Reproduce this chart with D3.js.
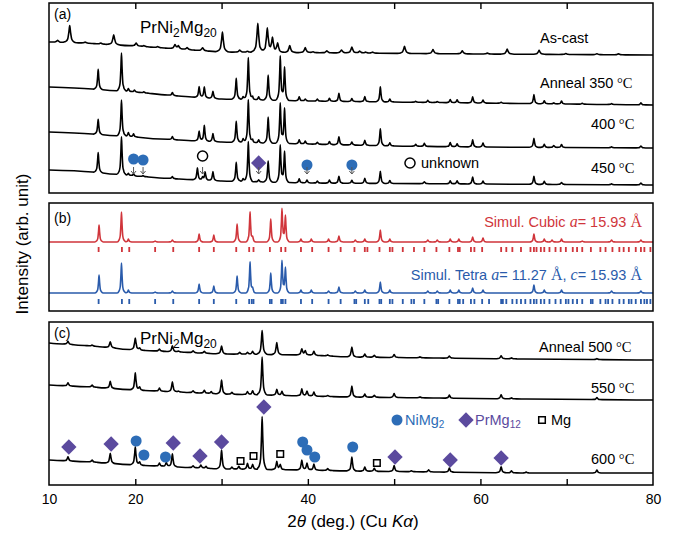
<!DOCTYPE html>
<html>
<head>
<meta charset="utf-8">
<script src="https://cdn.jsdelivr.net/npm/d3@7"></script>
<style>
body { margin: 0; background: #fff; }
text { font-family: "Liberation Sans", Arial, sans-serif; }
</style>
</head>
<body>
<div id="chart"></div>
<script>
// ---- data: [2theta, intensity] baselines, [2theta, peak height] ----
const asCastBase = [[10,151],[14,150],[20,147],[25,144],[30,141],[45,140],[60,139],[80,138]];
const asCastPeaks = [[11.0,2],[12.4,17],[14.2,1],[16.0,1],[17.5,10],[20.1,3],[21.0,1],[22.6,1],[24.6,4],[25.0,3],[26.0,2],[27.8,3],[30.1,20],[32.1,2],[33.0,1],[34.2,29],[35.3,24],[35.9,14],[36.5,9],[37.9,7],[39.7,5],[40.6,1],[42.2,2],[43.9,3],[45.1,6],[46.0,2],[46.7,1],[47.5,1],[51.2,7],[54.5,4],[57.9,3],[60.8,1],[63.1,5],[66.8,4],[69.9,1],[73.5,1],[76.0,1]];

const a350Base = [[10,106],[15,104],[20,101],[25,97],[30,94],[40,92],[50,91],[60,90],[70,89],[80,88]];
const a350Peaks = [[15.7,20],[18.4,38],[19.2,3],[19.9,2],[21.0,1],[24.3,3],[27.4,11],[28.0,11],[29.0,7],[31.7,21],[32.5,3],[33.1,42],[33.6,3],[34.3,3],[35.4,25],[36.8,44],[37.3,33],[39.0,4],[39.7,2],[41.1,2],[42.5,3],[43.6,8],[45.1,3],[46.6,5],[48.4,15],[49.5,3],[52.5,1],[53.9,2],[55.0,1],[56.5,3],[57.3,3],[59.1,6],[60.3,3],[62.4,1],[66.2,9],[67.4,3],[68.5,1],[69.4,3],[71.8,1],[75.2,1],[78.6,2]];

const a400Base = [[10,61],[15,59],[20,56],[25,53],[30,51],[40,49],[50,47],[60,46],[80,45]];
const a400Peaks = [[15.7,15],[18.4,36],[19.2,4],[19.8,3],[24.3,3],[27.4,10],[28.0,16],[29.0,8],[31.7,21],[32.5,4],[33.1,43],[33.6,3],[34.3,3],[35.4,26],[36.8,40],[37.3,35],[39.0,4],[39.7,3],[41.1,2],[42.5,3],[43.6,8],[45.1,3],[46.6,5],[48.4,17],[49.5,3],[52.5,2],[53.5,3],[56.5,4],[57.3,3],[59.1,7],[60.3,4],[66.2,9],[67.4,3],[68.5,2],[69.4,3],[75.2,1],[78.6,2]];

const a450Base = [[10,23],[15,21],[20,17],[25,14],[30,12],[40,10],[60,9],[80,8]];
const a450Peaks = [[15.7,20],[18.4,38],[19.2,2],[19.8,2],[20.9,1],[24.3,2],[27.2,12],[27.8,3],[28.1,8],[29.0,9],[31.7,19],[32.5,3],[33.1,40],[34.3,2],[35.4,21],[36.8,37],[37.3,31],[39.0,4],[39.9,3],[41.1,2],[42.5,3],[43.6,7],[45.1,3],[46.6,5],[48.4,12],[49.5,3],[53.5,2],[56.5,3],[57.3,3],[59.1,7],[60.3,3],[66.2,8],[67.4,3],[69.4,2],[75.2,1],[78.6,2]];

const cubicBase = [[10,69],[80,69]];
const cubicPeaks = [[15.8,17],[18.4,30],[19.2,3],[22.3,1],[24.3,2],[27.4,8],[29.1,7],[31.8,18],[33.3,30],[33.6,4],[35.7,23],[37.0,33],[37.4,26],[39.2,3],[40.4,3],[42.4,3],[43.6,6],[45.5,2],[46.6,3],[48.4,12],[49.5,3],[53.9,2],[55.0,2],[56.5,3],[57.5,3],[59.1,5],[60.3,4],[66.2,8],[67.4,3],[68.3,2],[69.4,3],[71.8,1],[75.2,2],[78.6,2]];
const tetraBase = [[10,18],[80,18]];
const tetraPeaks = [[15.8,18],[18.4,30],[19.2,3],[22.3,1],[24.3,2],[27.4,9],[29.1,7],[31.8,17],[33.3,31],[33.6,4],[35.7,20],[37.0,32],[37.4,25],[39.2,3],[40.4,3],[42.4,2],[43.6,6],[45.5,2],[46.6,3],[48.4,11],[49.5,3],[53.9,2],[55.0,2],[56.5,3],[57.5,3],[59.1,5],[60.3,3],[66.2,8],[67.4,3],[69.4,3],[75.2,2],[78.6,2]];

const cubicRefl = [15.75,18.45,19.3,22.3,24.4,27.4,29.1,31.7,33.2,33.7,35.6,36.9,37.4,39.2,40.5,42.4,43.8,45.4,46.6,46.9,48.3,49.5,49.8,51.0,52.3,53.5,54.9,56.4,57.4,57.6,58.9,59.3,60.2,62.4,63.0,63.7,64.7,65.8,66.2,66.5,67.0,67.4,68.0,68.7,69.3,69.9,70.7,71.2,71.8,72.8,73.9,74.5,75.3,76.1,76.6,77.2,78.0,78.6,79.0,79.7];
const tetraRefl = [15.75,18.45,19.3,22.3,24.4,27.4,29.1,31.7,33.2,33.5,33.7,35.6,35.8,36.9,37.1,37.4,39.2,40.5,42.4,43.8,45.4,45.6,46.6,47.0,48.3,48.5,49.5,49.8,51.0,52.0,52.3,53.5,54.9,55.1,56.4,57.4,57.6,58.0,58.9,59.3,60.2,61.0,62.4,62.6,63.0,63.7,64.2,64.7,65.2,65.8,66.2,66.5,67.0,67.4,68.0,68.7,69.3,69.9,70.2,70.7,71.2,71.8,72.8,73.0,73.9,74.5,74.8,75.3,76.1,76.6,77.2,77.5,78.0,78.6,79.0,79.3,79.7];

const a500Base = [[10,142],[15,139],[20,135],[25,133],[30,131],[40,130],[45,128],[55,127],[65,126],[80,125]];
const a500Peaks = [[12.2,3],[15.0,1],[17.1,6],[20.0,12],[20.5,2],[22.8,2],[24.3,6],[25.0,1],[26.7,2],[28.0,2],[30.0,8],[32.1,2],[33.0,2],[33.6,3],[34.7,24],[36.4,12],[39.3,6],[39.7,4],[40.7,4],[42.3,1],[45.1,10],[46.6,3],[47.7,2],[50.0,3],[53.0,1],[56.4,2],[62.4,3],[63.6,1],[73.5,1]];
const a550Base = [[10,100],[15,98],[20,95],[25,93],[30,91],[40,89],[45,88],[55,87],[65,86],[80,85]];
const a550Peaks = [[12.2,3],[15.0,2],[17.1,7],[20.0,17],[20.5,3],[22.8,3],[24.3,10],[25.0,1],[26.7,2],[28.0,3],[28.8,2],[30.0,14],[31.2,2],[33.0,3],[33.6,4],[34.7,38],[36.4,6],[37.0,4],[39.3,7],[39.9,5],[40.7,4],[42.3,1],[45.1,11],[46.6,3],[47.7,2],[50.0,4],[53.0,1],[56.4,3],[62.4,4],[63.6,1],[73.5,2]];
const a600Base = [[10,25],[15,23],[20,20],[25,18],[30,16],[40,15],[45,14],[55,13],[65,12],[80,12]];
const a600Peaks = [[12.2,4],[15.0,2],[17.1,10],[20.0,18],[20.5,3],[22.8,3],[23.6,4],[24.3,13],[26.7,2],[27.6,3],[28.2,2],[30.0,19],[31.2,2],[32.0,3],[33.0,6],[33.6,5],[34.7,53],[36.4,8],[36.8,5],[39.3,10],[39.9,7],[40.7,6],[42.3,2],[45.1,14],[46.6,4],[47.7,3],[50.0,6],[52.0,1],[54.0,2],[56.4,4],[62.4,6],[63.6,2],[65.3,1],[73.5,3]];

// phase markers [2theta, intensity]
const markA_circle = [[19.8,34],[20.9,33],[39.9,28],[45.1,28]];
const markA_open = [[27.8,37]];
const markA_diamond = [[34.3,30]];
const markC_diamond = [[12.3,38],[17.2,41],[24.4,42],[27.5,29],[30.0,43],[34.9,78],[50.1,28],[56.5,25],[62.4,27]];
const markC_circle = [[20.1,44],[21.0,30],[23.5,28],[39.4,43],[39.9,35],[40.8,28],[45.2,38]];
const markC_square = [[32.2,24],[33.7,29],[36.8,31],[48.0,22]];

const xTicks = [10, 20, 30, 40, 50, 60, 70, 80];
const xTickLabels = [10, 20, 40, 60, 80];

// ---- drawing ----
const W = 680, H = 536;
const BLUE = "#2d6db7", PURPLE = "#5b4a9e", RED = "#d0353b", SBLUE = "#2a5bab";
const svg = d3.select("#chart").append("svg").attr("width", W).attr("height", H);

const x = d3.scaleLinear().domain([10, 80]).range([49, 653]);

const panels = [
  {id: "a", top: 3, bottom: 193, max: 190},
  {id: "b", top: 203, bottom: 311, max: 108},
  {id: "c", top: 322, bottom: 485, max: 163}
];
panels.forEach(p => { p.y = d3.scaleLinear().domain([0, p.max]).range([p.bottom, p.top]); });
const [pA, pB, pC] = panels;

// peak profile (rounded top, long feet)
const PROF_X = [-1, -0.55, -0.3, -0.12, 0, 0.12, 0.3, 0.55, 1];
const PROF_Y = [0, 0.07, 0.2, 0.62, 1, 0.62, 0.2, 0.07, 0];

function curvePoints(base, peaks, w) {
  const baseScale = d3.scaleLinear().domain(base.map(d => d[0])).range(base.map(d => d[1]));
  const shapes = peaks.map(([p, h]) => d3.scaleLinear()
    .domain(PROF_X.map(o => p + o * w)).range(PROF_Y.map(l => l * h)).clamp(true));
  const xs = new Set(base.map(d => d[0]));
  peaks.forEach(([p]) => PROF_X.forEach(o => xs.add(+(p + o * w).toFixed(3))));
  return Array.from(xs).filter(v => v >= 10 && v <= 80).sort((a, b) => a - b)
    .map(v => [v, baseScale(v) + d3.sum(shapes, s => s(v))]);
}

const defs = svg.append("defs");
panels.forEach(p => {
  defs.append("clipPath").attr("id", "clip" + p.id).append("rect")
    .attr("x", x(10)).attr("y", p.top).attr("width", x(80) - x(10)).attr("height", p.bottom - p.top);
});

function drawCurve(panel, base, peaks, w, color) {
  const line = d3.line().x(d => x(d[0])).y(d => panel.y(d[1])).curve(d3.curveMonotoneX);
  svg.append("path")
    .attr("clip-path", "url(#clip" + panel.id + ")")
    .attr("d", line(curvePoints(base, peaks, w)))
    .attr("fill", "none").attr("stroke", color).attr("stroke-width", 1.6)
    .attr("stroke-linejoin", "round");
}

drawCurve(pA, asCastBase, asCastPeaks, 0.8, "#000");
drawCurve(pA, a350Base, a350Peaks, 0.55, "#000");
drawCurve(pA, a400Base, a400Peaks, 0.55, "#000");
drawCurve(pA, a450Base, a450Peaks, 0.55, "#000");
drawCurve(pB, cubicBase, cubicPeaks, 0.5, RED);
drawCurve(pB, tetraBase, tetraPeaks, 0.5, SBLUE);
drawCurve(pC, a500Base, a500Peaks, 0.65, "#000");
drawCurve(pC, a550Base, a550Peaks, 0.6, "#000");
drawCurve(pC, a600Base, a600Peaks, 0.6, "#000");

// reflection ticks
svg.append("g").selectAll("rect").data(cubicRefl).join("rect")
  .attr("x", d => x(d) - 0.9).attr("y", pB.y(64)).attr("width", 1.8)
  .attr("height", pB.y(59) - pB.y(64)).attr("fill", RED);
svg.append("g").selectAll("rect").data(tetraRefl).join("rect")
  .attr("x", d => x(d) - 0.9).attr("y", pB.y(12)).attr("width", 1.8)
  .attr("height", pB.y(7) - pB.y(12)).attr("fill", SBLUE);

// frames
panels.forEach(p => {
  svg.append("rect").attr("x", x(10)).attr("y", p.top)
    .attr("width", x(80) - x(10)).attr("height", p.bottom - p.top)
    .attr("fill", "none").attr("stroke", "#000").attr("stroke-width", 1.5);
});

// axes
const innerTicks = xTicks.filter(t => t > 10 && t < 80);
svg.append("g").attr("transform", `translate(0,${pA.top})`)
  .call(d3.axisTop(x).tickValues(innerTicks).tickSize(-6).tickFormat(""))
  .call(g => g.select(".domain").remove())
  .call(g => g.selectAll("line").attr("stroke-width", 1.4));
const xAxis = svg.append("g").attr("transform", `translate(0,${pC.bottom})`)
  .call(d3.axisBottom(x).tickValues(xTicks).tickSize(-6).tickPadding(9)
    .tickFormat(d => xTickLabels.includes(d) ? d : ""))
  .call(g => g.select(".domain").remove())
  .call(g => g.selectAll("line").attr("stroke-width", 1.4).attr("display", d => (d === 10 || d === 80) ? "none" : null));
xAxis.selectAll("text").attr("font-size", 14).attr("fill", "#000")
  .attr("font-family", "Liberation Sans, Arial, sans-serif");

// axis titles
const xt = svg.append("text").attr("x", 353).attr("y", 527).attr("text-anchor", "middle").attr("font-size", 17);
xt.append("tspan").text("2");
xt.append("tspan").attr("font-style", "italic").text("θ");
xt.append("tspan").text(" (deg.) (Cu ");
xt.append("tspan").attr("font-style", "italic").text("Kα");
xt.append("tspan").text(")");

svg.append("text").attr("transform", "translate(28,244) rotate(-90)")
  .attr("text-anchor", "middle").attr("font-size", 17).text("Intensity (arb. unit)");

// panel letters and compound names
[["(a)", pA.top + 16], ["(b)", pB.top + 20], ["(c)", pC.top + 16]].forEach(([t, yy]) => {
  svg.append("text").attr("x", 54).attr("y", yy).attr("font-size", 14).text(t);
});
function compound(yy) {
  const t = svg.append("text").attr("x", 140).attr("y", yy).attr("font-size", 17);
  t.append("tspan").text("PrNi");
  t.append("tspan").attr("font-size", 12).attr("dy", 4).text("2");
  t.append("tspan").attr("dy", -4).text("Mg");
  t.append("tspan").attr("font-size", 12).attr("dy", 4).text("20");
}
compound(33);
compound(344);

// sample labels
function tempLabel(xx, yy, txt, unit) {
  const t = svg.append("text").attr("x", xx).attr("y", yy).attr("font-size", 14.5);
  t.append("tspan").text(txt);
  if (unit) t.append("tspan").attr("font-family", "Liberation Serif, serif").text(" °C");
}
tempLabel(540, 43, "As-cast", false);
tempLabel(540, 88, "Anneal 350", true);
tempLabel(591, 129, "400", true);
tempLabel(591, 173, "450", true);
tempLabel(539, 352, "Anneal 500", true);
tempLabel(591, 393, "550", true);
tempLabel(591, 464, "600", true);

// simulation labels
function simLabel(yy, color, parts) {
  const t = svg.append("text").attr("x", 642).attr("y", yy).attr("text-anchor", "end")
    .attr("font-size", 14.5).attr("fill", color);
  parts.forEach(([s, serif]) => {
    const ts = t.append("tspan").text(s);
    if (serif) ts.attr("font-family", "Liberation Serif, serif").attr("font-size", 16);
    if (serif === "i") ts.attr("font-style", "italic");
  });
}
simLabel(227, RED, [["Simul. Cubic "], ["a", "i"], ["= 15.93 "], ["Å", "r"]]);
simLabel(280, SBLUE, [["Simul. Tetra "], ["a", "i"], ["= 11.27 "], ["Å", "r"], [", "], ["c", "i"], ["= 15.93 "], ["Å", "r"]]);

// markers
const sym = (type, size) => d3.symbol().type(type).size(size)();
function drawMarkers(panel, data, type, size, fill, stroke) {
  svg.append("g").selectAll("path").data(data).join("path")
    .attr("transform", d => `translate(${x(d[0])},${panel.y(d[1])})`)
    .attr("d", sym(type, size))
    .attr("fill", fill).attr("stroke", stroke || "none").attr("stroke-width", 1.5);
}
drawMarkers(pA, markA_circle, d3.symbolCircle, 95, BLUE);
drawMarkers(pA, markA_open, d3.symbolCircle, 80, "#fff", "#000");
drawMarkers(pA, markA_diamond, d3.symbolDiamond2, 150, PURPLE);

// small arrows under the phase marks of 450 C pattern
const arrowX = [].concat(markA_circle, markA_open, markA_diamond).map(d => d[0]);
const arr = svg.append("g").attr("stroke", "#555").attr("stroke-width", 1).attr("fill", "none");
arrowX.forEach(a => {
  const xx = x(a), y0 = pA.y(26), y1 = pA.y(19);
  arr.append("path").attr("d", `M${xx},${y0}V${y1}M${xx - 2.5},${y1 - 3}L${xx},${y1}L${xx + 2.5},${y1 - 3}`);
});

// unknown legend
svg.append("path").attr("transform", "translate(410,163)").attr("d", sym(d3.symbolCircle, 80))
  .attr("fill", "#fff").attr("stroke", "#000").attr("stroke-width", 1.5);
svg.append("text").attr("x", 421).attr("y", 168).attr("font-size", 14.5).text("unknown");

drawMarkers(pC, markC_diamond, d3.symbolDiamond2, 150, PURPLE);
drawMarkers(pC, markC_circle, d3.symbolCircle, 95, BLUE);
drawMarkers(pC, markC_square, d3.symbolSquare2, 55, "#fff", "#000");

// phase legend
svg.append("path").attr("transform", "translate(397,420)").attr("d", sym(d3.symbolCircle, 95)).attr("fill", BLUE);
const l1 = svg.append("text").attr("x", 405).attr("y", 425).attr("font-size", 14.5).attr("fill", BLUE);
l1.append("tspan").text("NiMg");
l1.append("tspan").attr("font-size", 10).attr("dy", 3).text("2");
svg.append("path").attr("transform", "translate(466,420)").attr("d", sym(d3.symbolDiamond2, 150)).attr("fill", PURPLE);
const l2 = svg.append("text").attr("x", 475).attr("y", 425).attr("font-size", 14.5).attr("fill", PURPLE);
l2.append("tspan").text("PrMg");
l2.append("tspan").attr("font-size", 10).attr("dy", 3).text("12");
svg.append("path").attr("transform", "translate(542,420)").attr("d", sym(d3.symbolSquare2, 55))
  .attr("fill", "#fff").attr("stroke", "#000").attr("stroke-width", 1.5);
svg.append("text").attr("x", 551).attr("y", 425).attr("font-size", 14.5).text("Mg");
</script>
</body>
</html>
